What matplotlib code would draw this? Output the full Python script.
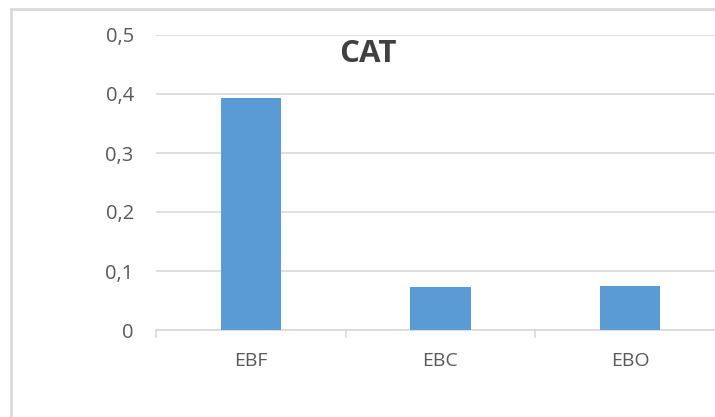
import numpy as np
import matplotlib.pyplot as plt
from matplotlib.patches import Rectangle

categories = ["EBF", "EBC", "EBO"]
values = [0.393, 0.073, 0.074]
y_ticks = [0, 0.1, 0.2, 0.3, 0.4, 0.5]
y_labels = ["0", "0,1", "0,2", "0,3", "0,4", "0,5"]

plt.rcParams['font.family'] = ['Open Sans', 'DejaVu Sans']
grey = '#d9d9d9'
txt = '#595959'

W, H = 715, 417
fig = plt.figure(figsize=(W / 100, H / 100), dpi=100)

# chart frame (cropped at right and bottom)
fig.patches.append(Rectangle((11 / W, -0.1), 1.2, (H - 9) / H + 0.1, transform=fig.transFigure,
                             fill=False, edgecolor=grey, linewidth=2))

ax = fig.add_axes([156 / W, (H - 330) / H, (725 - 156) / W, (330 - 35) / H])
x = np.arange(len(categories))
ax.bar(x, values, width=0.317, color='#5b9bd5', zorder=3)

ax.set_xlim(-0.5, len(categories) - 0.5)
ax.set_ylim(0, 0.5)
ax.set_yticks(y_ticks)
ax.set_yticklabels(y_labels)
ax.set_xticks(x)
ax.set_xticklabels(categories)
ax.set_xticks(np.arange(len(categories) + 1) - 0.5, minor=True)

ax.grid(axis='y', color=grey, linewidth=1.2, zorder=0)
for s in ['top', 'right', 'left']:
    ax.spines[s].set_visible(False)
ax.spines['bottom'].set_color(grey)
ax.spines['bottom'].set_linewidth(1.2)

ax.tick_params(axis='y', length=0, pad=16, labelsize=14.5, labelcolor=txt)
ax.tick_params(axis='x', which='major', length=0, pad=16, labelsize=14, labelcolor=txt)
ax.tick_params(axis='x', which='minor', length=6, color=grey, width=1.2)

fig.text(368 / W, 1 - 54 / H, "CAT", ha='center', va='center', fontsize=22.5,
         fontweight='bold', color='#404040')

fig.savefig('out.png', dpi=100)
